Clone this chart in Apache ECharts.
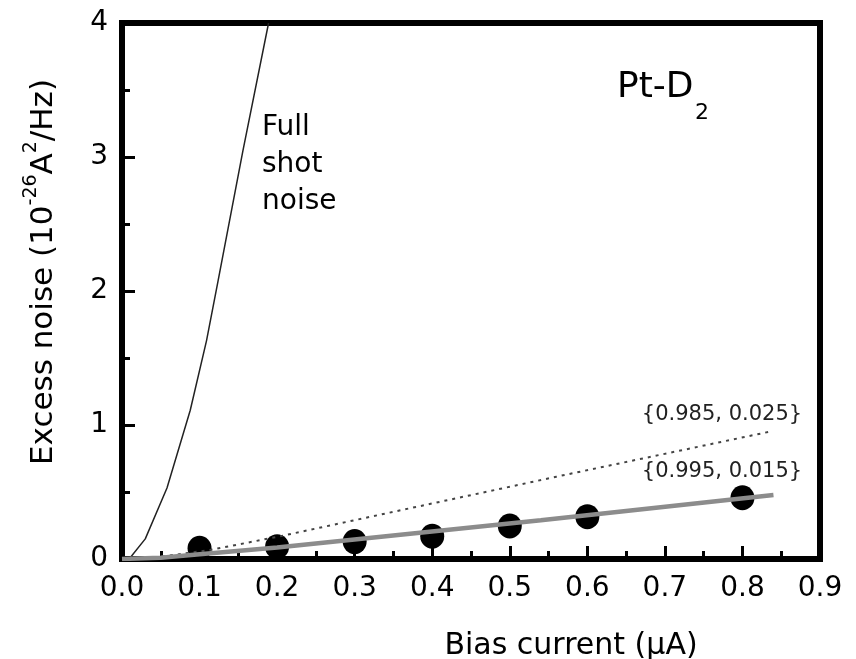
<!DOCTYPE html>
<html>
<head>
<meta charset="utf-8">
<script src="https://cdn.jsdelivr.net/npm/echarts@6/dist/echarts.min.js"></script>
<style>
html,body{margin:0;padding:0;background:#fff;}
#chart{width:856px;height:659px;}
</style>
</head>
<body>
<div id="chart"></div>
<script>
// ---- data ----
const measuredX = [0.1, 0.2, 0.3, 0.4, 0.5, 0.6, 0.8];
const measuredY = [0.08, 0.092, 0.13, 0.17, 0.246, 0.316, 0.457];

const shotX = [0, 0.010, 0.030, 0.058, 0.088, 0.109, 0.124, 0.156, 0.189];
const shotY = [0, 0.005, 0.15, 0.53, 1.11, 1.63, 2.08, 3.05, 4.0];

const fitAX = [0, 0.05, 0.113, 0.2, 0.56, 0.835];          // {0.985, 0.025}
const fitAY = [0, 0.017, 0.067, 0.165, 0.614, 0.95];

const fitBX = [0, 0.05, 0.1, 0.2, 0.54, 0.84];             // {0.995, 0.015}
const fitBY = [0, 0.01, 0.035, 0.085, 0.29, 0.478];

const xTicks = [0, 0.9, 0.1];   // min, max, interval
const yTicks = [0, 4, 1];

const pairs = (xs, ys) => xs.map((x, i) => [x, ys[i]]);

const FONT = 'DejaVu Sans';
const chart = echarts.init(document.getElementById('chart'), null, {renderer: 'canvas'});

const option = {
  backgroundColor: '#ffffff',
  animation: false,
  grid: {
    left: 122, right: 36, top: 23, bottom: 100,
    show: true, borderColor: '#000', borderWidth: 6, backgroundColor: 'transparent'
  },
  xAxis: {
    type: 'value', min: xTicks[0], max: xTicks[1], interval: xTicks[2],
    axisLine: {show: true, onZero: false, lineStyle: {color: '#000', width: 6}},
    axisTick: {show: true, inside: true, length: 13, lineStyle: {color: '#000', width: 3}},
    minorTick: {show: true, splitNumber: 2, length: 8, lineStyle: {color: '#000', width: 3}},
    splitLine: {show: false},
    axisLabel: {
      margin: 16, color: '#000', fontFamily: FONT, fontSize: 28,
      formatter: v => v.toFixed(1)
    }
  },
  yAxis: {
    type: 'value', min: yTicks[0], max: yTicks[1], interval: yTicks[2],
    axisLine: {show: true, onZero: false, lineStyle: {color: '#000', width: 6}},
    axisTick: {show: true, inside: true, length: 13, lineStyle: {color: '#000', width: 3}},
    minorTick: {show: true, splitNumber: 2, length: 8, lineStyle: {color: '#000', width: 3}},
    splitLine: {show: false},
    axisLabel: {
      margin: 14, color: '#000', fontFamily: FONT, fontSize: 28,
      formatter: v => String(Math.round(v))
    }
  },
  series: [
    {
      name: 'Full shot noise', type: 'line', data: pairs(shotX, shotY),
      showSymbol: false, symbol: 'none', clip: true, z: 3,
      lineStyle: {color: '#222', width: 1.5}
    },
    {
      name: 'measured', type: 'scatter', data: pairs(measuredX, measuredY),
      symbol: 'circle', symbolSize: [24, 25], z: 4,
      itemStyle: {color: '#000', opacity: 1}
    },
    {
      name: '{0.985, 0.025}', type: 'line', data: pairs(fitAX, fitAY),
      showSymbol: false, symbol: 'none', z: 5,
      lineStyle: {color: '#444', width: 2, type: [3, 5]}
    },
    {
      name: '{0.995, 0.015}', type: 'line', data: pairs(fitBX, fitBY),
      showSymbol: false, symbol: 'none', z: 6,
      lineStyle: {color: '#8c8c8c', width: 4.5}
    }
  ],
  graphic: [
    {type: 'text', x: 617, y: 88, z: 10,
     style: {text: 'Pt-D', fontFamily: FONT, fontSize: 36, fill: '#000', align: 'left', verticalAlign: 'middle'}},
    {type: 'text', x: 695, y: 113, z: 10,
     style: {text: '2', fontFamily: FONT, fontSize: 22, fill: '#000', align: 'left', verticalAlign: 'middle'}},
    {type: 'text', x: 262, y: 128, z: 10,
     style: {text: 'Full', fontFamily: FONT, fontSize: 28, fill: '#000', align: 'left', verticalAlign: 'middle'}},
    {type: 'text', x: 262, y: 165, z: 10,
     style: {text: 'shot', fontFamily: FONT, fontSize: 28, fill: '#000', align: 'left', verticalAlign: 'middle'}},
    {type: 'text', x: 262, y: 202, z: 10,
     style: {text: 'noise', fontFamily: FONT, fontSize: 28, fill: '#000', align: 'left', verticalAlign: 'middle'}},
    {type: 'text', x: 722, y: 415, z: 10,
     style: {text: '{0.985, 0.025}', fontFamily: FONT, fontSize: 21, fill: '#222', align: 'center', verticalAlign: 'middle'}},
    {type: 'text', x: 722, y: 472, z: 10,
     style: {text: '{0.995, 0.015}', fontFamily: FONT, fontSize: 21, fill: '#222', align: 'center', verticalAlign: 'middle'}},
    {type: 'text', x: 571, y: 646, z: 10,
     style: {text: 'Bias current (\u03BCA)', fontFamily: FONT, fontSize: 30, fill: '#000', align: 'center', verticalAlign: 'middle'}},
    {type: 'text', x: 44, y: 272, rotation: Math.PI / 2, z: 10,
     style: {
       text: '{n|Excess noise (10}{s|-26}{n|A}{s|2}{n|/Hz)}',
       align: 'center', verticalAlign: 'middle', fill: '#000',
       rich: {
         n: {fontFamily: FONT, fontSize: 31, lineHeight: 44, verticalAlign: 'middle', fill: '#000'},
         s: {fontFamily: FONT, fontSize: 19, lineHeight: 44, verticalAlign: 'top', fill: '#000'}
       }
     }}
  ]
};
chart.setOption(option);
</script>
</body>
</html>
